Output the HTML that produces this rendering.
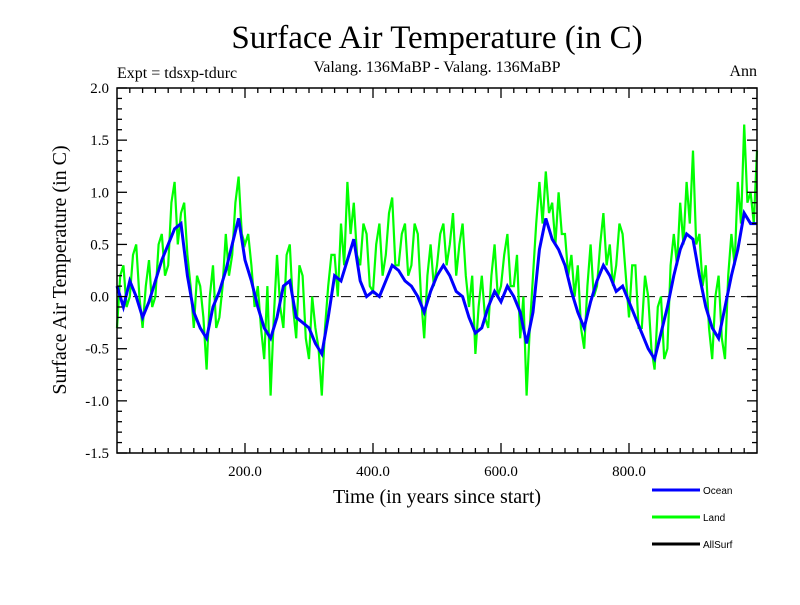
<!DOCTYPE html>
<html><head><meta charset="utf-8"><style>
body{margin:0;background:#fff;}
svg text{font-family:"Liberation Serif",serif;}
</style></head><body>
<svg id="chart" width="800" height="600" xmlns="http://www.w3.org/2000/svg">
<rect width="800" height="600" fill="#fff"/>
<text x="437" y="48" font-size="33" text-anchor="middle">Surface Air Temperature (in C)</text>
<text x="117" y="78" font-size="16">Expt = tdsxp-tdurc</text>
<text x="437" y="72" font-size="16" text-anchor="middle">Valang. 136MaBP - Valang.  136MaBP</text>
<text x="757" y="76" font-size="16" text-anchor="end">Ann</text>
<text transform="translate(66,270) rotate(-90)" font-size="20" text-anchor="middle">Surface Air Temperature (in C)</text>
<text x="437" y="503" font-size="20" text-anchor="middle">Time (in years since start)</text>
<g id="plot"></g>
<g id="axes"></g>
<g font-size="10">
<line x1="652" y1="490" x2="700" y2="490" stroke="#0000ff" stroke-width="3"/>
<text x="703" y="494" style="font-family:'Liberation Sans',sans-serif" font-size="10">Ocean</text>
<line x1="652" y1="517" x2="700" y2="517" stroke="#00ff00" stroke-width="3"/>
<text x="703" y="521" style="font-family:'Liberation Sans',sans-serif" font-size="10">Land</text>
<line x1="652" y1="544" x2="700" y2="544" stroke="#000" stroke-width="3"/>
<text x="703" y="548" style="font-family:'Liberation Sans',sans-serif" font-size="10">AllSurf</text>
</g>
</svg>
<script>
const oceanYears = [];
for (let i = 0; i <= 100; i++) oceanYears.push(i * 10);
const landYears = [];
for (let i = 0; i <= 200; i++) landYears.push(i * 5);
const ocean = [0.1,-0.1,0.15,0.0,-0.2,-0.05,0.15,0.35,0.5,0.65,0.7,0.2,-0.15,-0.3,-0.4,-0.1,0.05,0.25,0.5,0.75,0.35,0.15,-0.1,-0.3,-0.4,-0.2,0.1,0.15,-0.2,-0.25,-0.3,-0.45,-0.55,-0.2,0.2,0.15,0.35,0.55,0.15,0.0,0.05,0.0,0.15,0.3,0.25,0.15,0.1,0.0,-0.15,0.05,0.2,0.3,0.2,0.05,0.0,-0.2,-0.35,-0.3,-0.1,0.05,-0.05,0.1,0.0,-0.15,-0.45,-0.15,0.45,0.75,0.55,0.45,0.3,0.05,-0.15,-0.3,-0.05,0.15,0.3,0.2,0.05,0.1,-0.05,-0.2,-0.35,-0.5,-0.6,-0.35,-0.1,0.2,0.45,0.6,0.55,0.2,-0.1,-0.3,-0.4,-0.1,0.2,0.45,0.8,0.7,0.7];
const land = [-0.3,0.2,0.3,-0.1,0.0,0.4,0.5,0.0,-0.3,0.1,0.35,-0.1,0.0,0.5,0.6,0.2,0.3,0.9,1.1,0.5,
0.8,0.9,0.4,0.1,-0.3,0.2,0.1,-0.2,-0.7,0.0,0.3,-0.3,-0.2,0.1,0.6,0.2,0.4,0.9,1.15,0.6,
0.5,0.6,0.3,-0.1,0.1,-0.3,-0.6,0.1,-0.95,-0.2,0.4,-0.1,-0.3,0.4,0.5,-0.1,-0.4,0.3,0.2,-0.4,
-0.6,0.0,-0.3,-0.5,-0.95,-0.3,0.1,0.4,0.4,0.0,0.7,0.3,1.1,0.6,0.9,0.4,0.3,0.7,0.6,0.1,
0.05,0.5,0.7,0.2,0.4,0.8,0.95,0.3,0.3,0.6,0.7,0.2,0.3,0.7,0.6,0.0,-0.4,0.2,0.5,0.1,
0.3,0.6,0.7,0.3,0.5,0.8,0.2,0.5,0.7,0.2,-0.1,0.2,-0.55,-0.1,0.2,-0.2,-0.3,0.2,0.5,0.0,
0.1,0.4,0.6,0.1,0.1,0.4,-0.4,0.0,-0.95,-0.3,0.2,0.7,1.1,0.7,1.2,0.8,0.9,0.5,1.0,0.6,
0.6,0.2,0.4,0.0,0.3,-0.3,-0.5,0.1,0.5,0.0,0.1,0.5,0.8,0.3,0.5,0.1,0.3,0.7,0.6,0.2,
-0.2,0.3,0.3,-0.3,-0.3,0.2,0.0,-0.5,-0.7,-0.1,0.0,-0.6,-0.5,0.3,0.6,0.3,0.9,0.5,1.1,0.7,
1.4,0.5,0.6,0.1,0.3,-0.3,-0.6,0.0,0.2,-0.4,-0.6,0.2,0.6,0.3,1.1,0.7,1.65,0.9,1.0,0.7,1.4];
const yTicks = [2.0,1.5,1.0,0.5,0.0,-0.5,-1.0,-1.5];
const yTickLabels = ["2.0","1.5","1.0","0.5","0.0","-0.5","-1.0","-1.5"];
const xTicks = [200,400,600,800];
const xTickLabels = ["200.0","400.0","600.0","800.0"];

const L=117,R=757,T=88,B=453;
const xs = v => L + (v/1000)*(R-L);
const ys = v => T + (2.0 - v)/3.5*(B-T);
const NS="http://www.w3.org/2000/svg";
const plot=document.getElementById('plot'), axes=document.getElementById('axes');
function mk(tag, attrs, parent){const e=document.createElementNS(NS,tag);for(const k in attrs)e.setAttribute(k,attrs[k]);parent.appendChild(e);return e;}

const zl = mk('line',{x1:L,x2:R,y1:ys(0),y2:ys(0),stroke:'#000','stroke-width':1,'stroke-dasharray':'10,6'},plot);



function series(xv, vals, color, w, name){
  const d = vals.map((v,i)=>(i?'L':'M')+xs(xv[i]).toFixed(1)+','+ys(v).toFixed(1)).join('');
  const p = mk('path',{d:d,fill:'none',stroke:color,'stroke-width':w,'stroke-linejoin':'miter'},plot);
  
  
}
series(landYears, land,'#00ff00',2.2,'land-line');
series(oceanYears, ocean,'#0000ff',3,'ocean-line');

const frame = mk('rect',{x:L,y:T,width:R-L,height:B-T,fill:'none',stroke:'#000','stroke-width':1.5},axes);



for(let k=-15;k<=20;k++){
  const v=k/10, y=ys(v), major=(k%5===0), len=major?10:5;
  mk('line',{x1:L,x2:L+len,y1:y,y2:y,stroke:'#000','stroke-width':1.3},axes);
  mk('line',{x1:R,x2:R-len,y1:y,y2:y,stroke:'#000','stroke-width':1.3},axes);
}
yTicks.forEach((v,i)=>{
  const t=mk('text',{x:L-8,y:ys(v)+5,'font-size':15,'text-anchor':'end'},axes);
  t.textContent=yTickLabels[i];
  
  
});
for(let yr=20;yr<1000;yr+=20){
  const x=xs(yr), major=(yr%200===0), len=major?10:5;
  mk('line',{x1:x,x2:x,y1:B,y2:B-len,stroke:'#000','stroke-width':1.3},axes);
  mk('line',{x1:x,x2:x,y1:T,y2:T+len,stroke:'#000','stroke-width':1.3},axes);
}
xTicks.forEach((v,i)=>{
  const t=mk('text',{x:xs(v),y:B+23,'font-size':15,'text-anchor':'middle'},axes);
  t.textContent=xTickLabels[i];
  
  
});
</script>
</body></html>
